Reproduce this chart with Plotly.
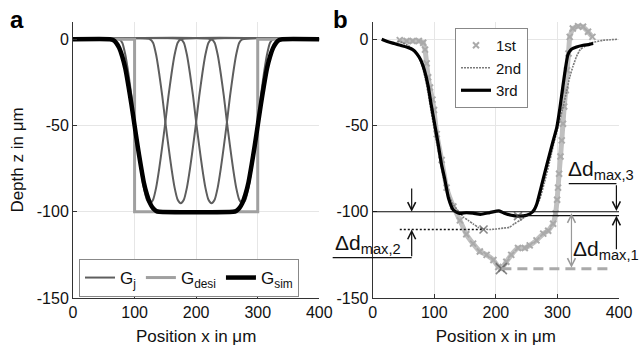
import plotly.graph_objects as go

# ---------------- data ----------------
x_ticks = [0, 100, 200, 300, 400]
x_ticktext = ["0", "100", "200", "300", "400"]
y_ticks = [0, -50, -100, -150]
y_ticktext = ["0", "-50", "-100", "-150"]

# panel a
gj_y = [0, 0, -2, -9, -20, -33, -48, -62, -75, -86, -93, -95, -93, -86, -75, -62, -48, -33, -20, -9, -2, 0, 0]
gj1_x = [0, 75, 80, 85, 90, 95, 100, 105, 110, 115, 120, 125, 130, 135, 140, 145, 150, 155, 160, 165, 170, 175, 400]
gj2_x = [0, 125, 130, 135, 140, 145, 150, 155, 160, 165, 170, 175, 180, 185, 190, 195, 200, 205, 210, 215, 220, 225, 400]
gj3_x = [0, 175, 180, 185, 190, 195, 200, 205, 210, 215, 220, 225, 230, 235, 240, 245, 250, 255, 260, 265, 270, 275, 400]
gj4_x = [0, 225, 230, 235, 240, 245, 250, 255, 260, 265, 270, 275, 280, 285, 290, 295, 300, 305, 310, 315, 320, 325, 400]

gdesi_x = [0, 100, 100, 300, 300, 400]
gdesi_y = [0, 0, -100, -100, 0, 0]

gsim_x = [0, 60, 65, 70, 75, 80, 85, 90, 95, 100, 105, 110, 115, 120, 125, 130, 135, 140,
          260, 265, 270, 275, 280, 285, 290, 295, 300, 305, 310, 315, 320, 325, 330, 335, 340, 400]
gsim_y = [0, 0, -0.5, -2, -5, -10, -17, -27, -38, -50, -62, -73, -83, -90, -95, -98, -99.5, -100,
          -100, -99.5, -98, -95, -90, -83, -73, -62, -50, -38, -27, -17, -10, -5, -2, -0.5, 0, 0]

# panel b
b1_x = [44, 55, 65, 75, 82, 85, 87.6, 90, 93, 97, 99.5, 104, 112, 120, 131, 141.6, 152, 163, 174, 185,
        196, 204, 209, 217, 225, 236, 247, 255, 266, 277, 285, 293, 297, 299.5, 301, 302.7, 305, 307, 309, 311,
        313.5, 315.7, 318, 320, 325, 333.5, 341.6, 349.7, 356.8]
b1_y = [-0.5, -1, -1, -1, -2, -6, -14, -22, -28, -35, -41, -55, -70, -86, -97, -105, -113, -118.5, -123, -125,
        -128, -132, -133, -129, -125, -121, -121, -119.5, -116.6, -112.7, -111, -107, -101, -93, -86, -78, -68, -58.6, -49, -39,
        -29.6, -18, -8.3, 1.4, 6.2, 7.5, 7.2, 4.3, 1.4]

b2_x = [40, 55, 66, 74, 80, 85, 90, 98, 106, 115, 123, 131, 140, 147, 155, 163, 171, 180, 190, 201,
        212, 222, 230, 239, 247, 255, 263, 271, 279, 288, 295, 301, 308, 315, 320, 325, 331, 337, 345, 352,
        362, 374, 386, 398]
b2_y = [-1, -3, -6, -10, -15, -22, -31, -48, -64, -80, -90, -96, -100, -103, -105, -107, -109, -110, -110.3, -110,
        -109.5, -109, -107, -105, -103, -101, -98, -93, -83, -70, -59, -51, -41, -30, -22, -16, -10, -6, -4, -2.5,
        -1.5, -0.6, -0.3, 0]

b3_x = [14.6, 25, 35, 45, 55, 65, 72, 78, 84, 90, 95, 101, 106, 112, 117, 123, 131, 141, 152, 163,
        175, 190, 205, 215, 225, 236, 250, 260, 266, 272, 279, 287, 293, 299, 304, 309, 313, 317, 322, 331,
        342, 352, 358]
b3_y = [0, -1.5, -2.5, -3.5, -4.5, -6, -8.5, -12, -18, -27, -38, -50, -60, -73, -81, -92, -99, -101, -100.5, -100.8,
        -101.5, -100.5, -99.5, -101, -102, -102.5, -102, -100, -96, -88, -78, -67, -59, -51, -40, -27, -17, -9, -6, -4.5,
        -3.5, -3, -2.5]

# minima of the three iterations (x, depth)
min_x = [209, 180, 236]
min_y = [-133, -110.3, -102.5]
min_sizes = [11, 8, 8]

# deviation levels
level_ref = -100
level_3 = -102.3
level_2 = -110.3
level_1 = -133

# ---------------- layout helpers ----------------
X_RANGE = [0, 400]
Y_RANGE = [-150, 10]
FIG_W, FIG_H = 640, 346
ML, MR = 73, 21
PLOT_W = FIG_W - ML - MR
XA_DOM = [0.0, 0.4511]
XB_DOM = [0.5489, 1.0]
FONT = "Liberation Sans, Arial, Helvetica, sans-serif"
PLOT_TOP_PX, PLOT_BOTTOM_PX = 22, 298


def bxd(v):  # data x (panel b) -> x2 domain fraction
    return (v - X_RANGE[0]) / (X_RANGE[1] - X_RANGE[0])


def bpx(v):  # data x (panel b) -> paper
    return XB_DOM[0] + bxd(v) * (XB_DOM[1] - XB_DOM[0])


def py(v):  # data y -> paper
    return (v - Y_RANGE[0]) / (Y_RANGE[1] - Y_RANGE[0])


def pix_x(p):  # pixel column -> paper x
    return (p - ML) / PLOT_W


def pix_y(p):  # pixel row -> paper y
    return (PLOT_BOTTOM_PX - p) / (PLOT_BOTTOM_PX - PLOT_TOP_PX)


def dlabel(sub):
    return "Δd<sub>" + sub + "</sub>"


fig = go.Figure()

# ---------- panel a ----------
for i, gx in enumerate([gj1_x, gj2_x, gj3_x, gj4_x]):
    fig.add_trace(go.Scatter(x=gx, y=gj_y, mode="lines", name="G<sub>j</sub>",
                             line=dict(color="#5e5e5e", width=2, shape="spline", smoothing=0.6),
                             showlegend=(i == 0), legend="legend", xaxis="x", yaxis="y"))
fig.add_trace(go.Scatter(x=gdesi_x, y=gdesi_y, mode="lines", name="G<sub>desi</sub>",
                         line=dict(color="#a0a0a0", width=3), legend="legend", xaxis="x", yaxis="y"))
fig.add_trace(go.Scatter(x=gsim_x, y=gsim_y, mode="lines", name="G<sub>sim</sub>",
                         line=dict(color="#000000", width=4.5, shape="spline", smoothing=0.5),
                         legend="legend", xaxis="x", yaxis="y"))

# ---------- panel b ----------
fig.add_trace(go.Scatter(x=b1_x, y=b1_y, mode="lines", showlegend=False,
                         line=dict(color="#c0c0c0", width=5, shape="spline", smoothing=0.3),
                         xaxis="x2", yaxis="y2", hoverinfo="skip"))
fig.add_trace(go.Scatter(x=b1_x, y=b1_y, mode="markers", name="1st",
                         marker=dict(symbol="x-thin", size=6, color="#aaaaaa",
                                     line=dict(color="#aaaaaa", width=2)),
                         legend="legend2", xaxis="x2", yaxis="y2"))
fig.add_trace(go.Scatter(x=b2_x, y=b2_y, mode="lines", name="2nd",
                         line=dict(color="#7a7a7a", width=1.6, dash="2px,1px", shape="spline", smoothing=0.5),
                         legend="legend2", xaxis="x2", yaxis="y2"))
fig.add_trace(go.Scatter(x=b3_x, y=b3_y, mode="lines", name="3rd",
                         line=dict(color="#000000", width=3.2, shape="spline", smoothing=0.5),
                         legend="legend2", xaxis="x2", yaxis="y2"))
fig.add_trace(go.Scatter(x=min_x, y=min_y, mode="markers", showlegend=False,
                         marker=dict(symbol="x-thin", size=min_sizes, color="#555555",
                                     line=dict(color="#555555", width=1.6)),
                         xaxis="x2", yaxis="y2", hoverinfo="skip"))

shapes = []
shapes.append(dict(type="line", xref="x2", yref="y2", x0=0, x1=400, y0=level_ref, y1=level_ref,
                   line=dict(color="#111", width=1.2)))
shapes.append(dict(type="line", xref="x2", yref="y2", x0=min_x[2], x1=400, y0=level_3, y1=level_3,
                   line=dict(color="#111", width=1.2)))
shapes.append(dict(type="line", xref="x2 domain", yref="y2", x0=bxd(44), x1=bxd(min_x[1]), y0=level_2, y1=level_2,
                   line=dict(color="#111", width=1.5, dash="2px,2px")))
shapes.append(dict(type="line", xref="x2", yref="y2", x0=min_x[0], x1=390, y0=level_1, y1=level_1,
                   line=dict(color="#aaaaaa", width=3, dash="10px,6px")))
shapes.append(dict(type="line", xref="x2 domain", yref="y2", x0=bxd(-65), x1=bxd(63.3), y0=-126.6, y1=-126.6,
                   line=dict(color="#111", width=1.2)))
shapes.append(dict(type="line", xref="x2 domain", yref="y2", x0=bxd(318.4), x1=bxd(395.8), y0=-83.7, y1=-83.7,
                   line=dict(color="#111", width=1.2)))

annotations = []


def arrow(xv, ytip, ytail, color="#111", both=False):
    annotations.append(dict(x=xv, y=ytip, ax=xv, ay=ytail, xref="x2", yref="y2", axref="x2", ayref="y2",
                            text="", showarrow=True, arrowhead=5, startarrowhead=5,
                            arrowside="end+start" if both else "end",
                            arrowsize=1.3, startarrowsize=1.3, arrowwidth=1.2, arrowcolor=color))


arrow(63.3, level_ref, -85.6)
arrow(63.3, level_2, -126.6)
arrow(395.8, -99.6, -83.7)
arrow(395.8, level_3, -122.6)
arrow(322.8, level_1 + 0.5, level_ref, color="#999999", both=True)

lab_font = dict(family=FONT, size=21, color="#111")
annotations.append(dict(x=bpx(-63), y=py(-126.6), xref="paper", yref="paper", xanchor="left", yanchor="bottom",
                        text=dlabel("max,2"), showarrow=False, font=lab_font, borderpad=0))
annotations.append(dict(x=bpx(315.5), y=py(-83.7), xref="paper", yref="paper", xanchor="left", yanchor="bottom",
                        text=dlabel("max,3"), showarrow=False, font=lab_font, borderpad=0))
annotations.append(dict(x=bpx(324), y=py(-130), xref="paper", yref="paper", xanchor="left", yanchor="bottom",
                        text=dlabel("max,1"), showarrow=False, font=lab_font, borderpad=0))
annotations.append(dict(x=pix_x(8), y=pix_y(4), xref="paper", yref="paper",
                        xanchor="left", yanchor="top",
                        text="<b>a</b>", showarrow=False, font=dict(family=FONT, size=24, color="#000")))
annotations.append(dict(x=pix_x(331), y=pix_y(4), xref="paper", yref="paper",
                        xanchor="left", yanchor="top",
                        text="<b>b</b>", showarrow=False, font=dict(family=FONT, size=24, color="#000")))

axis_common = dict(range=X_RANGE, tickvals=x_ticks, ticktext=x_ticktext, showline=True, linecolor="#333",
                   linewidth=1, ticks="inside", ticklen=4, tickcolor="#333", showgrid=True, gridcolor="#e6e6e6",
                   zeroline=False, automargin=False, tickfont=dict(family=FONT, size=16, color="#111"),
                   title=dict(text="Position x in μm", font=dict(family=FONT, size=17, color="#111")))
yaxis_common = dict(range=Y_RANGE, tickvals=y_ticks, ticktext=y_ticktext, showline=True, linecolor="#333",
                    linewidth=1, ticks="inside", ticklen=4, tickcolor="#333", showgrid=True, gridcolor="#e6e6e6",
                    zeroline=False, automargin=False, tickfont=dict(family=FONT, size=16, color="#111"))

fig.update_layout(
    width=FIG_W, height=FIG_H,
    margin=dict(l=ML, r=MR, t=PLOT_TOP_PX, b=FIG_H - PLOT_BOTTOM_PX, autoexpand=False),
    paper_bgcolor="white", plot_bgcolor="white",
    font=dict(family=FONT, size=16, color="#111"),
    xaxis=dict(domain=XA_DOM, anchor="y", **axis_common),
    yaxis=dict(domain=[0, 1], anchor="x",
               title=dict(text="Depth z in μm", font=dict(family=FONT, size=17, color="#111"), standoff=8),
               **yaxis_common),
    xaxis2=dict(domain=XB_DOM, anchor="y2", **axis_common),
    yaxis2=dict(domain=[0, 1], anchor="x2", **yaxis_common),
    legend=dict(orientation="h", x=pix_x(79), y=pix_y(259), xanchor="left", yanchor="top",
                bgcolor="white", bordercolor="#888", borderwidth=1,
                font=dict(family=FONT, size=17, color="#111"), itemwidth=30,
                tracegroupgap=0),
    legend2=dict(orientation="v", x=pix_x(455), y=pix_y(28), xanchor="left", yanchor="top",
                 bgcolor="white", bordercolor="#888", borderwidth=1,
                 font=dict(family=FONT, size=15, color="#111"), itemwidth=30, tracegroupgap=0),
    shapes=shapes,
    annotations=annotations,
    showlegend=True,
)

fig.write_html("out.html", config={"displayModeBar": False},
               post_script="document.body.style.margin='0';document.body.style.overflow='hidden';")
